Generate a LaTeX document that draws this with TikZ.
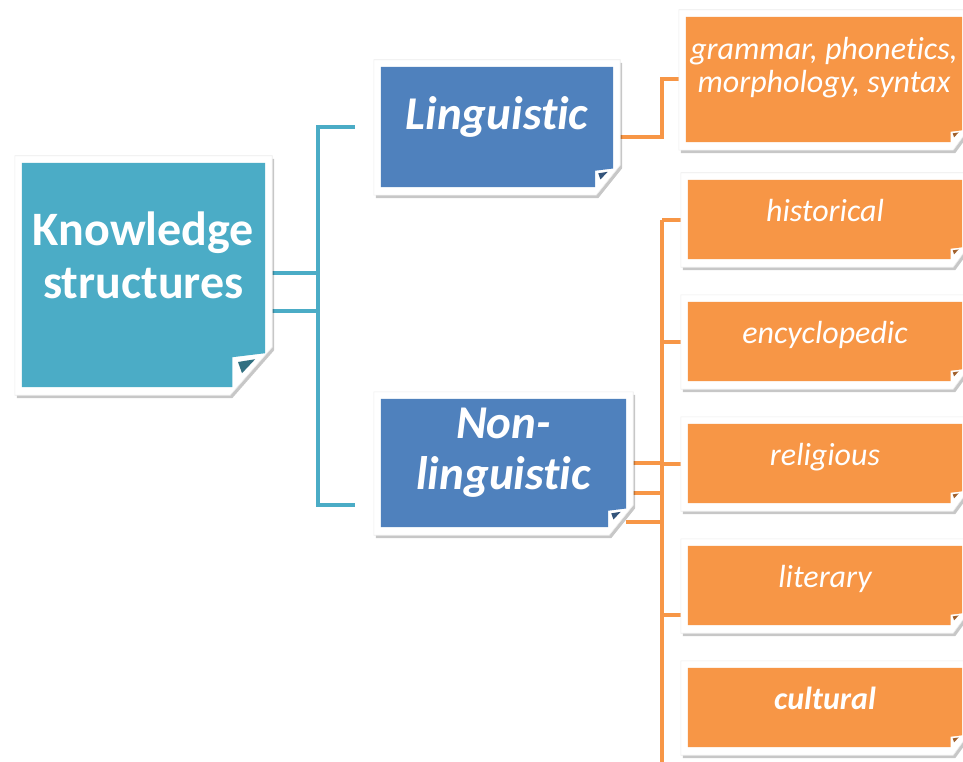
\documentclass[tikz,border=0pt]{standalone}
\usepackage{fontspec}
\setmainfont{Carlito}[Ligatures=NoCommon]
\usetikzlibrary{shadows}
\definecolor{knowteal}{HTML}{4BACC6}
\definecolor{lingblue}{HTML}{4F81BD}
\definecolor{typeorange}{HTML}{F79646}
\pgfdeclarelayer{back}
\pgfsetlayers{back,main}
\begin{document}
\begin{tikzpicture}[
  x=1pt,
  y=-1pt,
  card/.style={rectangle,inner sep=0pt,text=white,align=center},
  kbox/.style={card,minimum width=243pt,minimum height=224pt,
    font=\fontsize{48}{53}\selectfont\bfseries},
  lbox/.style={card,minimum height=120pt,
    font=\fontsize{47}{51}\selectfont\bfseries\itshape},
  obox/.style={card,minimum width=274pt,minimum height=79pt,
    font=\fontsize{32}{33}\selectfont\itshape},
  frame/.style={fill=white,draw=black!8,line width=0.6pt,
    drop shadow={shadow xshift=2pt,shadow yshift=-3pt,opacity=0.22,
    fill=black}},
  tealline/.style={draw=knowteal,line width=4pt},
  orangeline/.style={draw=typeorange,line width=4pt}
]
  \useasboundingbox (0,0) rectangle (963,762);

  % the cards
  \node[kbox] (know) at (143.5,275)
    {Knowledge\\structures\rule[-40pt]{0pt}{0pt}};
  \node[lbox,minimum width=232pt,text height=36pt,text depth=30pt]
    (ling) at (497,127) {Linguistic};
  \node[lbox,minimum width=245pt,minimum height=128pt]
    (nonling) at (503.5,463) {Non-\\linguistic\rule[-28pt]{0pt}{0pt}};
  \node[obox,minimum width=276pt,minimum height=125pt]
    (gram) at (824,79.5)
    {grammar, phonetics,\\morphology, syntax\rule[-30pt]{0pt}{0pt}};
  \foreach \k/\nm/\txt in {0/hist/historical,1/ency/encyclopedic,
      2/reli/religious,3/lite/literary,4/cult/\textbf{cultural}} {
    \node[obox,text height=24pt,text depth=21pt]
      (\nm) at (825,{219.5+122*\k}) {\txt};
  }

  \begin{pgfonlayer}{back}
    % teal links
    \draw[tealline] ([yshift=2pt]know.east) -- ++(53,0);
    \draw[tealline] ([yshift=-36pt]know.east) -- ++(53,0);
    \draw[tealline] ([xshift=-26pt]ling.west)
      -| ([xshift=-63pt,yshift=-42pt]nonling.west) -- ++(37,0);

    % orange links
    \draw[orangeline] ([yshift=-10pt]ling.east)
      -| ([xshift=-24pt]gram.west) -- (gram.west);
    \draw[orangeline] ([xshift=-26pt]hist.west) -- ++(0,544);
    \foreach \nm in {hist,ency,reli}
      \draw[orangeline] (\nm.west) -- ++(-26,0);
    \draw[orangeline] ([yshift=-29.5pt]lite.west) -- ++(-26,0);
    \draw[orangeline] (nonling.east) -- ++(36,0);
    \draw[orangeline] ([yshift=-30pt]nonling.east) -- ++(36,0);
    \draw[orangeline] ([yshift=-59pt]nonling.east) -- ++(36,0);

    % white frames, coloured faces and folded corners
    \foreach \n/\c/\col in {know/40/knowteal,ling/22/lingblue,
        nonling/22/lingblue,gram/14/typeorange,hist/14/typeorange,
        ency/14/typeorange,reli/14/typeorange,lite/14/typeorange,
        cult/14/typeorange} {
      \path[frame] ([shift={(-7,-7)}]\n.north west)
        -- ([shift={(7,-7)}]\n.north east)
        -- ([shift={(7,{-\c})}]\n.south east)
        -- ([shift={({5-\c},8)}]\n.south east)
        -- ([shift={(-7,8)}]\n.south west) -- cycle;
      \fill[\col] (\n.north west) -- (\n.north east)
        -- ([shift={(0,{-0.85*\c})}]\n.south east)
        -- ([shift={({-0.82*\c},{-0.75*\c})}]\n.south east)
        -- ([shift={({-0.82*\c},0)}]\n.south east)
        -- (\n.south west) -- cycle;
      \fill[\col!65!black]
        ([shift={({-0.68*\c},{-0.63*\c})}]\n.south east)
        -- ([shift={({-0.25*\c},{-0.7*\c})}]\n.south east)
        -- ([shift={({-0.58*\c},{-0.35*\c})}]\n.south east) -- cycle;
    }
  \end{pgfonlayer}
\end{tikzpicture}
\end{document}
